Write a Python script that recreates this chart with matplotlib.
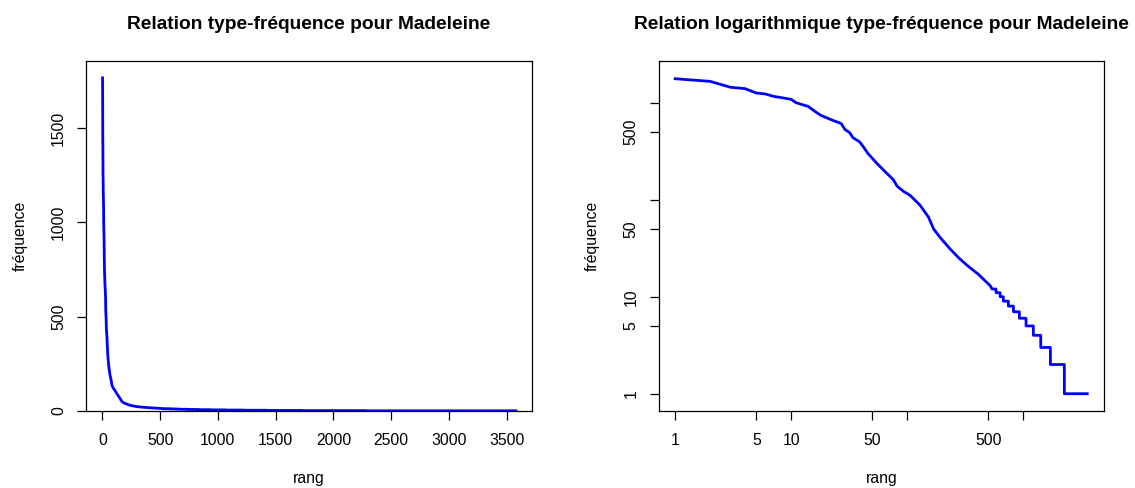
import matplotlib
matplotlib.use("Agg")
import matplotlib.pyplot as plt

plt.rcParams['font.family'] = ['Liberation Sans', 'DejaVu Sans']

# rang / fréquence (tête de la distribution)
head_rank = [1, 2, 3, 4, 5, 6, 7, 10, 11, 13, 14, 16, 18, 22, 27, 29, 32, 34, 39,
             42, 46, 55, 65, 76, 82, 93, 106, 129, 153, 169, 192, 235, 280, 330,
             412, 520]
head_freq = [1767, 1660, 1442, 1397, 1259, 1230, 1165, 1084, 1002, 940, 918, 815,
             741, 670, 610, 532, 490, 438, 394, 350, 299, 236, 193, 161, 138, 122,
             111, 88, 66, 50, 41, 31, 25, 21, 17, 13]

# queue : paliers de fréquence (premier rang de chaque palier)
tail_freq = [12, 11, 10, 9, 8, 7, 6, 5, 4, 3, 2, 1]
tail_start = [540, 585, 634, 676, 747, 826, 929, 1061, 1227, 1420, 1720, 2270]
n_types = 3580

# série complète
rang = list(head_rank)
freq = list(head_freq)
for i, f in enumerate(tail_freq):
    end = tail_start[i + 1] - 1 if i + 1 < len(tail_start) else n_types
    rang += [tail_start[i], end]
    freq += [f, f]

blue = '#0000FF'
fs_tick = 11.3
fs_title = 13.8
W, H = 1135, 488

fig = plt.figure(figsize=(W / 100, H / 100), dpi=100)

def style(ax):
    for s in ax.spines.values():
        s.set_linewidth(0.9)
    ax.tick_params(direction='out', length=6.5, width=0.9, labelsize=fs_tick)
    ax.tick_params(axis='x', pad=9)
    ax.tick_params(axis='y', pad=8, labelrotation=90)
    for lab in ax.get_yticklabels():
        lab.set_verticalalignment('center')

def labels(ax, title, left_px):
    # titre et étiquettes d'axes placés comme dans R (en pixels de la figure)
    bb = ax.get_position()
    xc = bb.x0 + bb.width / 2
    fig.text(xc, 1 - 29.3 / H, title, fontsize=fs_title, fontweight='bold',
             ha='center', va='baseline')
    fig.text(xc, 1 - 483 / H, 'rang', fontsize=fs_tick, ha='center', va='baseline')
    fig.text((left_px - 66) / W, bb.y0 + bb.height / 2, 'fréquence', fontsize=fs_tick,
             rotation=90, ha='center', va='center')

# --- graphique linéaire ---
ax1 = fig.add_axes([0.0760, 0.1578, 0.3924, 0.7166])
ax1.plot(rang, freq, color=blue, lw=2)
ax1.set_xlim(-140, 3716)
ax1.set_ylim(0, 1855)
ax1.set_xticks([0, 500, 1000, 1500, 2000, 2500, 3000, 3500])
ax1.set_yticks([0, 500, 1000, 1500])
style(ax1)
labels(ax1, 'Relation type-fréquence pour Madeleine', 86.3)

# --- graphique logarithmique ---
ax2 = fig.add_axes([0.5804, 0.1578, 0.3921, 0.7172])
ax2.plot(rang, freq, color=blue, lw=2)
ax2.set_xscale('log')
ax2.set_yscale('log')
ax2.set_xlim(10 ** -0.142, 10 ** 3.696)
ax2.set_ylim(10 ** -0.178, 10 ** 3.43)
log_ticks = [1, 5, 10, 50, 100, 500, 1000]
log_labels = ['1', '5', '10', '50', '', '500', '']
ax2.set_xticks(log_ticks)
ax2.set_xticklabels(log_labels)
ax2.set_yticks(log_ticks)
ax2.set_yticklabels(log_labels)
ax2.minorticks_off()
style(ax2)
labels(ax2, 'Relation logarithmique type-fréquence pour Madeleine', 658.7)

fig.savefig('out.png', dpi=100)
